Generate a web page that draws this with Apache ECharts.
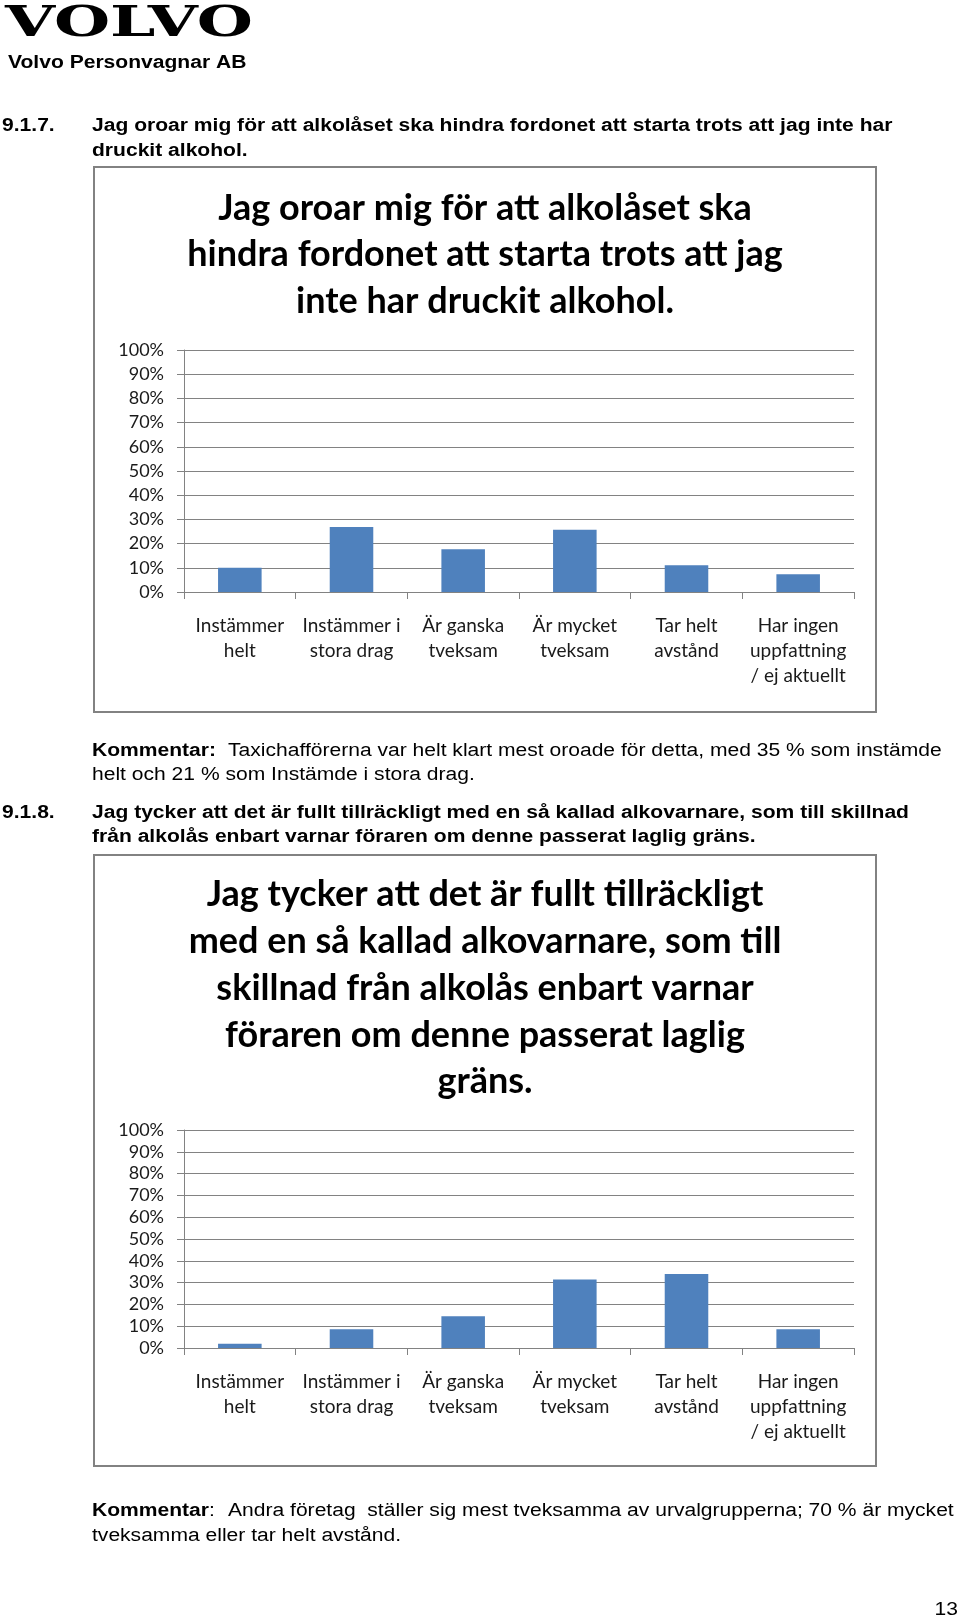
<!DOCTYPE html>
<html><head><meta charset="utf-8">
<script src="https://cdn.jsdelivr.net/npm/echarts@6/dist/echarts.min.js"></script>
<style>html,body{margin:0;padding:0;background:#fff}#c{width:960px;height:1619px}</style>
</head><body><div id="c"></div><script>
// ---- data ----
const categories = ['Instämmer\nhelt', 'Instämmer i\nstora drag', 'Är ganska\ntveksam', 'Är mycket\ntveksam', 'Tar helt\navstånd', 'Har ingen\nuppfattning\n/ ej aktuellt'];
const values1 = [10, 26.9, 17.7, 25.7, 11.1, 7.3];
const values2 = [2, 8.6, 14.6, 31.4, 33.9, 8.6];
const yMin = 0, yMax = 100, yStep = 10;
const title1 = 'Jag oroar mig för att alkolåset ska\nhindra fordonet att starta trots att jag\ninte har druckit alkohol.';
const title2 = 'Jag tycker att det är fullt tillräckligt\nmed en så kallad alkovarnare, som till\nskillnad från alkolås enbart varnar\nföraren om denne passerat laglig\ngräns.';
const heading1 = ['Jag oroar mig för att alkolåset ska hindra fordonet att starta trots att jag inte har', 'druckit alkohol.'];
const heading2 = ['Jag tycker att det är fullt tillräckligt med en så kallad alkovarnare, som till skillnad', 'från alkolås enbart varnar föraren om denne passerat laglig gräns.'];
const comment1 = ['Taxichafförerna var helt klart mest oroade för detta, med 35 % som instämde', 'helt och 21 % som Instämde i stora drag.'];
const comment2 = ['Andra företag  ställer sig mest tveksamma av urvalgrupperna; 70 % är mycket', 'tveksamma eller tar helt avstånd.'];

// ---- styles ----
const PAGE_FONT = '"Liberation Sans", Arial, sans-serif';
const CHART_FONT = 'Lato, "Open Sans", sans-serif';
const GRID_COLOR = '#828282';
const BAR_COLOR = '#4F81BD';
const PAGE_SX = 1.17;

function t(x, y, text, font, extra) {
  return { type: 'text', x: x, y: y, scaleX: PAGE_SX, style: Object.assign({ text: text, font: font, fill: '#000', textAlign: 'left', textVerticalAlign: 'middle' }, extra || {}) };
}

const graphics = [
  { type: 'text', x: 5, y: 25, scaleX: 1.5, scaleY: 1, style: { text: 'VOLVO', font: 'bold 43px "DejaVu Serif", serif', fill: '#000', textAlign: 'left', textVerticalAlign: 'middle' } },
  t(8, 63.5, 'Volvo Personvagnar AB', 'bold 18px ' + PAGE_FONT),
  t(2, 126.5, '9.1.7.', 'bold 18px ' + PAGE_FONT),
  t(92, 126.5, heading1[0], 'bold 18px ' + PAGE_FONT),
  t(92, 151, heading1[1], 'bold 18px ' + PAGE_FONT),
  { type: 'rect', shape: { x: 94, y: 167, width: 782, height: 545 }, style: { fill: 'none', stroke: GRID_COLOR, lineWidth: 2 } },
  { type: 'text', x: 485, y: 185, style: { text: title1, font: 'bold 36px ' + CHART_FONT, fill: '#000', textAlign: 'center', textVerticalAlign: 'top', lineHeight: 46.5 } },
  t(92, 751.5, 'Kommentar:', 'bold 18px ' + PAGE_FONT),
  t(228, 751.5, comment1[0], '18px ' + PAGE_FONT),
  t(92, 775.5, comment1[1], '18px ' + PAGE_FONT),
  t(2, 813, '9.1.8.', 'bold 18px ' + PAGE_FONT),
  t(92, 813, heading2[0], 'bold 18px ' + PAGE_FONT),
  t(92, 837, heading2[1], 'bold 18px ' + PAGE_FONT),
  { type: 'rect', shape: { x: 94, y: 855, width: 782, height: 611 }, style: { fill: 'none', stroke: GRID_COLOR, lineWidth: 2 } },
  { type: 'text', x: 485, y: 871.5, style: { text: title2, font: 'bold 36px ' + CHART_FONT, fill: '#000', textAlign: 'center', textVerticalAlign: 'top', lineHeight: 46.7 } },
  t(92, 1511, 'Kommentar', 'bold 18px ' + PAGE_FONT),
  t(209, 1511, ':', '18px ' + PAGE_FONT),
  t(228, 1511, comment2[0], '18px ' + PAGE_FONT),
  t(92, 1536, comment2[1], '18px ' + PAGE_FONT),
  t(958, 1610, '13', '18px ' + PAGE_FONT, { textAlign: 'right' })
];

function xAxis(gi) {
  return {
    type: 'category', gridIndex: gi, data: categories,
    axisLine: { lineStyle: { color: GRID_COLOR, width: 1 } },
    axisTick: { show: true, length: 7, lineStyle: { color: GRID_COLOR } },
    axisLabel: { interval: 0, margin: 21, color: '#1a1a1a', fontFamily: CHART_FONT, fontSize: 19, lineHeight: 25 }
  };
}
function yAxis(gi) {
  return {
    type: 'value', gridIndex: gi, min: yMin, max: yMax, interval: yStep,
    axisLine: { show: true, lineStyle: { color: GRID_COLOR, width: 1 } },
    axisTick: { show: true, length: 7, lineStyle: { color: GRID_COLOR } },
    splitLine: { show: true, lineStyle: { color: GRID_COLOR, width: 1 } },
    axisLabel: { margin: 20, color: '#1a1a1a', fontFamily: CHART_FONT, fontSize: 18, formatter: '{value}%' }
  };
}

const chart = echarts.init(document.getElementById('c'), null, { renderer: 'canvas' });
chart.setOption({
  animation: false,
  backgroundColor: '#fff',
  grid: [
    { left: 184, top: 350, width: 670, height: 242 },
    { left: 184, top: 1130, width: 670, height: 218 }
  ],
  xAxis: [xAxis(0), xAxis(1)],
  yAxis: [yAxis(0), yAxis(1)],
  series: [
    { type: 'bar', xAxisIndex: 0, yAxisIndex: 0, data: values1, barWidth: '39%', itemStyle: { color: BAR_COLOR } },
    { type: 'bar', xAxisIndex: 1, yAxisIndex: 1, data: values2, barWidth: '39%', itemStyle: { color: BAR_COLOR } }
  ],
  graphic: graphics
});
</script></body></html>
